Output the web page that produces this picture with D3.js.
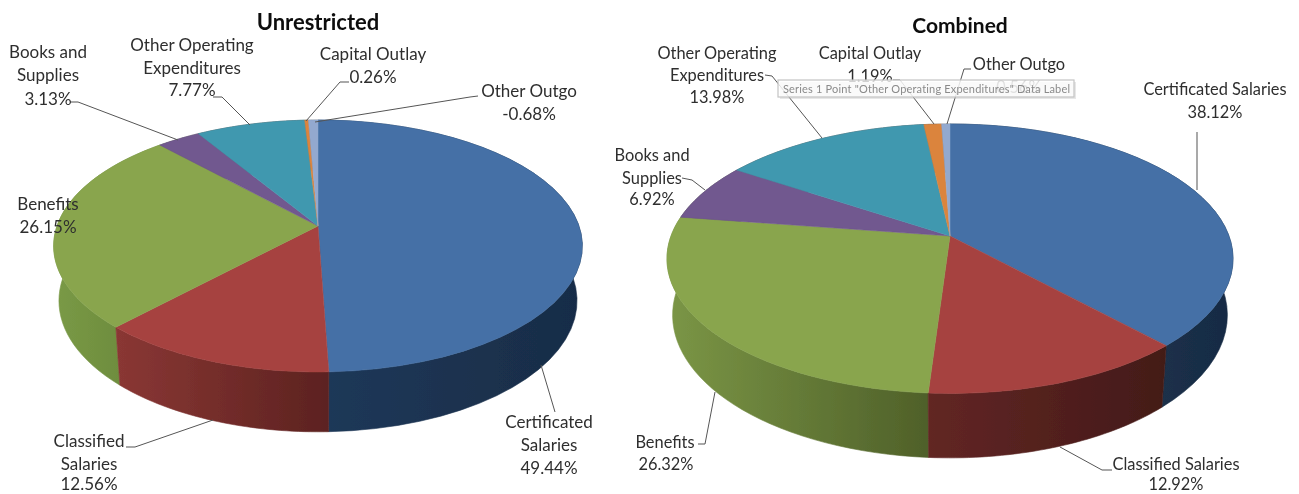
<!DOCTYPE html>
<html><head><meta charset="utf-8">
<script src="https://cdn.jsdelivr.net/npm/d3@7"></script>
<style>html,body{margin:0;background:#fff}svg{display:block}text{font-family:Lato,"Open Sans",sans-serif}</style>
</head><body><svg id="c" width="1299" height="494"></svg>
<script>
const categories=["Certificated Salaries","Classified Salaries","Benefits","Books and Supplies","Other Operating Expenditures","Capital Outlay","Other Outgo"];
const unrestrictedValues=[49.44,12.56,26.15,3.13,7.77,0.26,-0.68];
const combinedValues=[38.12,12.92,26.32,6.92,13.98,1.19,0.56];
const topColors=["#4470a6","#a64341","#89a54e","#71588f","#4198af","#db843d","#93a9cf"];
const unrestrictedWalls=[["#1e3858","#182c47"],["#8a3734","#5c2220"],["#7a9a46","#6e8d3e"],["#555","#555"],["#555","#555"],["#555","#555"],["#555","#555"]];
const combinedWalls=[["#1b3049","#172b44"],["#622624","#431a18"],["#7b9646","#4f6029"],["#555","#555"],["#555","#555"],["#555","#555"],["#555","#555"]];

const svg=d3.select("#c");
const defs=svg.append("defs");
const soft=defs.append("filter").attr("id","soft").attr("x","-2%").attr("y","-2%").attr("width","104%").attr("height","104%");
soft.append("feGaussianBlur").attr("stdDeviation",0.55);
const root=svg.append("g").attr("filter","url(#soft)");
const pieGen=d3.pie().sort(null).value(d=>Math.abs(d));
const line=d3.line();

function drawPie(id,values,walls,g){
  const arcs=pieGen(values);
  const proj=(t,depth)=>{
    const s=Math.sin(t),c=Math.cos(t),w=1+g.k*c;
    return [g.cx+(depth?g.fx:1)*g.A*s/w, g.cy+(depth?g.dy:0)-(depth?g.fy:1)*g.B*c/w];
  };
  const steps=(a)=>d3.range(0,41).map(i=>a.startAngle+(a.endAngle-a.startAngle)*i/40);
  const order=arcs.map((a,i)=>({a,i})).sort((p,q)=>Math.cos((q.a.startAngle+q.a.endAngle)/2)-Math.cos((p.a.startAngle+p.a.endAngle)/2));
  const G=root.append("g");
  order.forEach(({a,i})=>{
    const ts=steps(a);
    const pts=ts.map(t=>proj(t,false)).concat(ts.slice().reverse().map(t=>proj(t,true)));
    const vis=pts.filter((p,n)=>{const t=n<ts.length?ts[n]:ts[2*ts.length-1-n];return Math.cos(t)<0.25;});
    const xs=d3.extent(vis.length?vis:pts,p=>p[0]);
    const gid=`${id}w${i}`;
    const lg=defs.append("linearGradient").attr("id",gid).attr("gradientUnits","userSpaceOnUse")
      .attr("x1",xs[0]).attr("x2",xs[1]).attr("y1",0).attr("y2",0);
    lg.append("stop").attr("offset",0).attr("stop-color",walls[i][0]);
    lg.append("stop").attr("offset",1).attr("stop-color",walls[i][1]);
    G.append("path").attr("d",line(pts)+"Z").attr("fill",`url(#${gid})`).attr("stroke",`url(#${gid})`).attr("stroke-width",0.6);
  });
  arcs.forEach((a,i)=>{
    const pts=[[g.cx,g.cy]].concat(steps(a).map(t=>proj(t,false)));
    G.append("path").attr("d",line(pts)+"Z").attr("fill",topColors[i]).attr("stroke",topColors[i]).attr("stroke-width",0.5);
  });
}
drawPie("u",unrestrictedValues,unrestrictedWalls,{cx:318,cy:226,A:261,B:122.8,k:0.1587,dy:54,fx:0.98,fy:1.04});
drawPie("c",combinedValues,combinedWalls,{cx:950,cy:236,A:279,B:130.9,k:0.1685,dy:55,fx:0.98,fy:1.06});

const leaders=[
 [[70,102],[78,102],[178,140]],[[213,97],[222,97],[250,125]],[[349,82],[340,82],[306,121]],[[478,96],[470,97],[315,122]],
 [[541,365],[555,412]],[[126,447],[135,447],[213,420]],
 [[765,75],[772,76],[822,138]],[[893,80],[900,80],[934,124]],[[971,69],[964,69],[947,124]],
 [[1197,132],[1197,190]],[[682,178],[692,180],[705,190]],[[698,444],[705,444],[715,392]],[[1112,470],[1102,470],[1060,447]]
];
root.append("g").selectAll("path").data(leaders).join("path").attr("d",d=>line(d)).attr("fill","none").attr("stroke","#555").attr("stroke-width",1);

const leftLabelRows=[
 ["Books and",48,58],["Supplies",48,81],["3.13%",48,105],
 ["Other Operating",192,51],["Expenditures",192,74],["7.77%",192,96],
 ["Capital Outlay",373,60],["0.26%",373,83],
 ["Other Outgo",529,97],["-0.68%",529,120],
 ["Benefits",48,210],["26.15%",48,233],
 ["Certificated",549,428],["Salaries",549,451],["49.44%",549,474],
 ["Classified",89,447],["Salaries",89,470],["12.56%",89,490]
];
const rightLabelRows=[
 ["Other Operating",717,59],["Expenditures",717,81],["13.98%",717,103],
 ["Capital Outlay",870,59],["1.19%",870,82],
 ["Other Outgo",1019,70],
 ["Certificated Salaries",1215,95],["38.12%",1215,118],
 ["Books and",652,161],["Supplies",652,184],["6.92%",652,205],
 ["Benefits",665,448],["26.32%",666,470],
 ["Classified Salaries",1176,470],["12.92%",1176,490]
];
root.append("text").attr("x",1019).attr("y",93).attr("text-anchor","middle").attr("font-size",16.4).attr("fill","#555").text("0.56%");
const drawRows=(rows,size)=>root.append("g").selectAll("text").data(rows).join("text")
  .attr("x",d=>d[1]).attr("y",d=>d[2]).attr("text-anchor","middle").attr("font-size",size).attr("fill","#2e2e2e").text(d=>d[0]);
drawRows(leftLabelRows,17);
drawRows(rightLabelRows,16.4);
const titles=[["Unrestricted",318,30,22],["Combined",960,33,21]];
root.append("g").selectAll("text").data(titles).join("text")
  .attr("x",d=>d[1]).attr("y",d=>d[2]).attr("text-anchor","middle").attr("font-weight",700).attr("font-size",d=>d[3]).attr("fill","#111").text(d=>d[0]);

const tip=root.append("g");
tip.append("rect").attr("x",780).attr("y",82).attr("width",296).attr("height",17).attr("fill","#bbb").attr("opacity",0.35);
tip.append("rect").attr("x",778).attr("y",80).attr("width",296).attr("height",17).attr("fill","#fff").attr("fill-opacity",0.78).attr("stroke","#c4c4c4").attr("stroke-width",1.2);
tip.append("text").attr("x",783).attr("y",92.5).attr("font-size",11).attr("letter-spacing",0.18).attr("fill","#8a8a8a").text('Series 1 Point "Other Operating Expenditures" Data Label');
</script></body></html>
